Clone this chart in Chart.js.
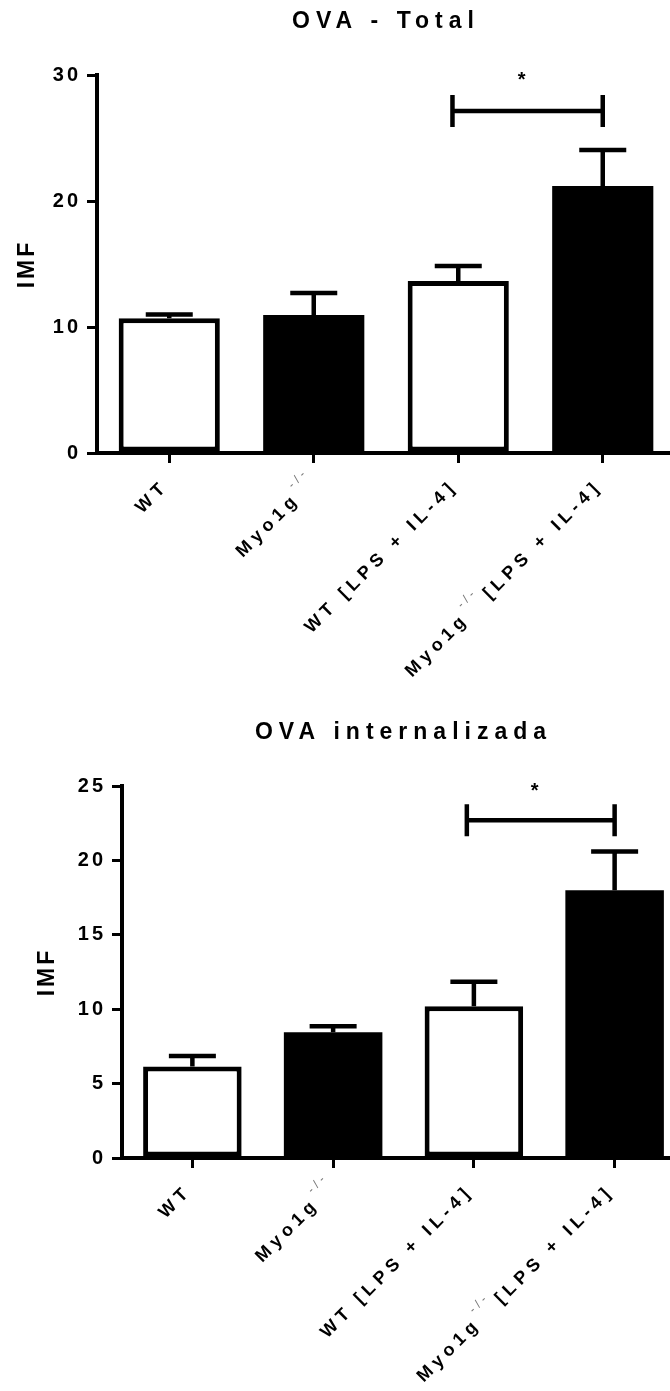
<!DOCTYPE html>
<html>
<head>
<meta charset="utf-8">
<script src="https://cdn.jsdelivr.net/npm/chart.js@4"></script>
<style>
html, body { margin: 0; padding: 0; background: #fff; overflow: hidden; }
#wrap { position: relative; width: 700px; height: 1391px; }
canvas { position: absolute; left: 0; }
#c1 { top: 0; }
#c2 { top: 700px; }
</style>
</head>
<body>
<div id="wrap">
  <canvas id="c1" width="700" height="700"></canvas>
  <canvas id="c2" width="700" height="691"></canvas>
</div>
<script>
const categories = ["WT", "Myo1g -/-", "WT [LPS + IL-4]", "Myo1g -/- [LPS + IL-4]"];
const yTitle = "IMF";

const totalTitle = "OVA - Total";
const totalMeans = [10.7, 10.95, 13.65, 21.2];
const totalErrors = [0.3, 1.75, 1.2, 2.85];
const totalTicks = [0, 10, 20, 30];
const totalSig = [1.96, 3, 27.15]; // from, to, height

const intTitle = "OVA internalizada";
const intMeans = [6.15, 8.45, 10.2, 18.0];
const intErrors = [0.7, 0.4, 1.65, 2.6];
const intTicks = [0, 5, 10, 15, 20, 25];
const intSig = [1.95, 3, 22.7];

const barFills = ["#fff", "#000", "#fff", "#000"];
const barBorders = [5, 0, 5, 0];
const FONT = "'Liberation Sans', Arial, sans-serif";

// spaced text like the original figure
function setSpacing(ctx, px) {
    if ("letterSpacing" in ctx) ctx.letterSpacing = px + "px";
}

const extras = {
    id: "extras",
    beforeUpdate(chart) { setSpacing(chart.ctx, 3); },
    beforeDraw(chart) { setSpacing(chart.ctx, 3); },
    afterDatasetsDraw(chart, args, opts) {
        const ctx = chart.ctx;
        const x = chart.scales.x;
        const y = chart.scales.y;
        ctx.save();
        ctx.strokeStyle = "#000";
        ctx.lineWidth = 4.5;

        // error bars (upper only)
        opts.means.forEach((m, i) => {
            const px = x.getPixelForValue(i);
            const top = y.getPixelForValue(m + opts.errors[i]);
            ctx.beginPath();
            ctx.moveTo(px, y.getPixelForValue(m));
            ctx.lineTo(px, top);
            ctx.moveTo(px - 23.5, top);
            ctx.lineTo(px + 23.5, top);
            ctx.stroke();
        });

        // significance bracket
        const x1 = x.getPixelForValue(opts.sig[0]);
        const x2 = x.getPixelForValue(opts.sig[1]);
        const by = y.getPixelForValue(opts.sig[2]);
        ctx.beginPath();
        ctx.moveTo(x1, by - 16);
        ctx.lineTo(x1, by + 16);
        ctx.moveTo(x2, by - 16);
        ctx.lineTo(x2, by + 16);
        ctx.moveTo(x1, by);
        ctx.lineTo(x2, by);
        ctx.stroke();

        setSpacing(ctx, 0);
        ctx.fillStyle = "#000";
        ctx.font = "bold 20px " + FONT;
        ctx.textAlign = "center";
        ctx.textBaseline = "alphabetic";
        ctx.fillText("*", (x1 + x2) / 2 - 6, chart.chartArea.top + 11);
        ctx.restore();
    },
    afterDraw(chart, args, opts) {
        const ctx = chart.ctx;
        const x = chart.scales.x;
        const area = chart.chartArea;
        ctx.save();

        // title
        setSpacing(ctx, 6);
        ctx.fillStyle = "#000";
        ctx.font = "bold 23px " + FONT;
        ctx.textAlign = "center";
        ctx.textBaseline = "middle";
        ctx.fillText(opts.title, (area.left + area.right) / 2, opts.titleY);

        // rotated category labels with superscript -/-
        ctx.textAlign = "left";
        categories.forEach((label, i) => {
            const parts = label.split(/(-\/-)/).map(s => s.trim()).filter(s => s !== "");
            const px = x.getPixelForValue(i);
            ctx.save();
            ctx.translate(px, area.bottom + 10);
            ctx.rotate(-Math.PI / 4);
            let u = parts[parts.length - 1] === "-/-" ? -14 : -22;
            for (let k = parts.length - 1; k >= 0; k--) {
                const sup = parts[k] === "-/-";
                const sp = sup ? 4 : 5;
                setSpacing(ctx, sp);
                ctx.font = sup ? "12px " + FONT : "bold 18px " + FONT;
                ctx.fillStyle = sup ? "#777" : "#000";
                const w = ctx.measureText(parts[k]).width - sp;
                ctx.fillText(parts[k], u - w, sup ? 0 : 12);
                u -= w + 7;
            }
            ctx.restore();
        });
        ctx.restore();
    }
};

function makeChart(id, o) {
    const maxY = o.ticks[o.ticks.length - 1];
    return new Chart(document.getElementById(id), {
        type: "bar",
        data: {
            labels: categories,
            datasets: [{
                data: o.means,
                backgroundColor: barFills,
                borderColor: "#000",
                borderWidth: barBorders,
                borderSkipped: false,
                barPercentage: 0.7,
                categoryPercentage: 1
            }]
        },
        options: {
            responsive: false,
            animation: false,
            devicePixelRatio: 1,
            layout: { padding: { top: o.top, right: o.right, left: 0, bottom: 0 } },
            plugins: {
                legend: { display: false },
                tooltip: { enabled: false },
                extras: { means: o.means, errors: o.errors, sig: o.sig, title: o.title, titleY: o.titleY }
            },
            scales: {
                x: {
                    offset: true,
                    grid: { offset: false, drawOnChartArea: false, tickLength: 10, lineWidth: 3, color: "#000" },
                    border: { color: "#000", width: 4 },
                    ticks: { display: false },
                    afterFit: s => { s.height = o.bottom; }
                },
                y: {
                    min: 0,
                    max: maxY,
                    afterBuildTicks: s => { s.ticks = o.ticks.map(v => ({ value: v })); },
                    grid: { drawOnChartArea: false, tickLength: 10, lineWidth: 3, color: "#000" },
                    border: { color: "#000", width: 4 },
                    ticks: { font: { family: FONT, size: 20, weight: "bold" }, color: "#000", padding: 6 },
                    title: {
                        display: true,
                        text: yTitle,
                        font: { family: FONT, size: 23, weight: "bold" },
                        color: "#000",
                        padding: { top: o.titlePad, bottom: 0 }
                    },
                    afterFit: s => { s.width = o.left; }
                }
            }
        },
        plugins: [extras]
    });
}

makeChart("c1", {
    means: totalMeans, errors: totalErrors, ticks: totalTicks, sig: totalSig, title: totalTitle,
    top: 75, left: 97, right: 25, bottom: 247, titleY: 22, titlePad: 14
});

makeChart("c2", {
    means: intMeans, errors: intErrors, ticks: intTicks, sig: intSig, title: intTitle,
    top: 86, left: 122, right: 15, bottom: 233, titleY: 33, titlePad: 34
});
</script>
</body>
</html>
